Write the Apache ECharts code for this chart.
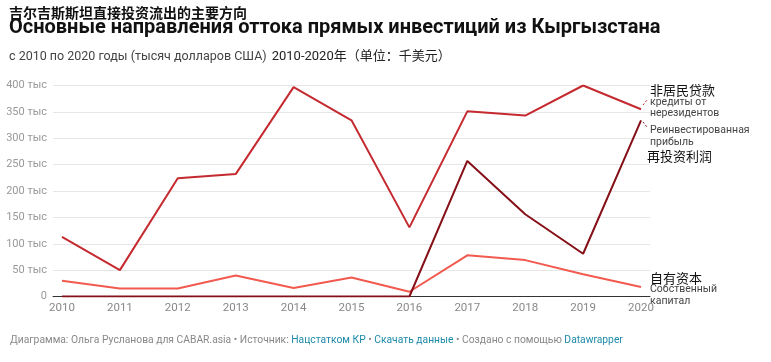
<!DOCTYPE html>
<html><head><meta charset="utf-8">
<script src="https://cdn.jsdelivr.net/npm/echarts@6/dist/echarts.min.js"></script>
<style>html,body{margin:0;padding:0;background:#fff}#c{width:771px;height:362px}</style>
</head><body><div id="c"></div>
<script>
const years = [2010,2011,2012,2013,2014,2015,2016,2017,2018,2019,2020];
const loans = [113,50,224,232,397,334,131,351,343,400,355];
const reinvested = [0,0,0,0,0,0,0,257,156,81,334];
const equity = [30,15,15,40,16,36,9,78,69,42,18];
const yTickLabels = ['0','50 тыс','100 тыс','150 тыс','200 тыс','250 тыс','300 тыс','350 тыс','400 тыс'];
const seriesNames = ['Кредиты от нерезидентов','Реинвестированная прибыль','Собственный капитал'];

const F = 'Roboto, "Noto Sans CJK SC", sans-serif';
const pairs = v => years.map((y,i)=>[y, v[i]]);
const chart = echarts.init(document.getElementById('c'), null, {renderer:'canvas'});
chart.setOption({
  animation:false,
  title:[
    {text:'吉尔吉斯斯坦直接投资流出的主要方向', left:9, top:6, padding:0,
     textStyle:{fontFamily:'"Noto Sans CJK SC", sans-serif', fontSize:14, fontWeight:'bold', color:'#111', lineHeight:14}},
    {text:'Основные направления оттока прямых инвестиций из Кыргызстана', left:9, top:17, padding:0,
     textStyle:{fontFamily:F, fontSize:20, fontWeight:'bold', color:'#111', lineHeight:22}},
    {text:'{a|с 2010 по 2020 годы (тысяч долларов США)} {b|2010-2020年（单位：千美元）}', left:9, top:48, padding:0,
     textStyle:{fontWeight:'normal', rich:{a:{fontFamily:F, fontSize:12.5, fontWeight:'normal', color:'#444', lineHeight:14},
                      b:{fontFamily:F, fontSize:13, fontWeight:'normal', color:'#222', lineHeight:14}}}}
  ],
  grid:{left:53, right:121, top:85.5, bottom:65.5},
  xAxis:{type:'value', min:2009.845, max:2020.155,
    axisLine:{show:true, lineStyle:{color:'#333', width:1}},
    axisTick:{show:false}, splitLine:{show:false},
    axisLabel:{customValues:years, formatter:v=>String(Math.round(v)), color:'#888', fontFamily:F, fontSize:11.5, margin:6}},
  yAxis:{type:'value', min:0, max:400, interval:50,
    axisLine:{show:false}, axisTick:{show:false},
    splitLine:{lineStyle:{color:'#e6e6e6', width:1}},
    axisLabel:{formatter:v=>yTickLabels[Math.round(v/50)], color:'#999', fontFamily:F, fontSize:11, margin:6}},
  series:[
    {name:seriesNames[0], type:'line', data:pairs(loans), symbol:'none', lineStyle:{color:'#c52a30', width:2}, z:3},
    {name:seriesNames[2], type:'line', data:pairs(equity), symbol:'none', lineStyle:{color:'#f25a4f', width:2}, z:4},
    {name:seriesNames[1], type:'line', data:pairs(reinvested), symbol:'none', lineStyle:{color:'#861018', width:2}, z:5}
  ],
  graphic:[
    {type:'line', shape:{x1:643,y1:105,x2:647,y2:100}, style:{stroke:'#c52a30', lineWidth:1, lineDash:[2,2]}},
    {type:'line', shape:{x1:643,y1:122,x2:647,y2:127}, style:{stroke:'#861018', lineWidth:1, lineDash:[2,2]}},
    {type:'text', x:650, y:90, style:{text:'非居民贷款', font:'13px "Noto Sans CJK SC"', fill:'#111', verticalAlign:'middle'}},
    {type:'text', x:650, y:102.5, style:{text:'кредиты от', font:'10.5px Roboto', fill:'#444', verticalAlign:'middle'}},
    {type:'text', x:650, y:113.5, style:{text:'нерезидентов', font:'10.5px Roboto', fill:'#444', verticalAlign:'middle'}},
    {type:'text', x:650, y:130.5, style:{text:'Реинвестированная', font:'10.5px Roboto', fill:'#444', verticalAlign:'middle'}},
    {type:'text', x:650, y:142, style:{text:'прибыль', font:'10.5px Roboto', fill:'#444', verticalAlign:'middle'}},
    {type:'text', x:647, y:156, style:{text:'再投资利润', font:'13px "Noto Sans CJK SC"', fill:'#111', verticalAlign:'middle'}},
    {type:'text', x:650, y:278, style:{text:'自有资本', font:'13px "Noto Sans CJK SC"', fill:'#111', verticalAlign:'middle'}},
    {type:'text', x:650, y:289.5, style:{text:'Собственный', font:'10.5px Roboto', fill:'#444', verticalAlign:'middle'}},
    {type:'text', x:650, y:301, style:{text:'капитал', font:'10.5px Roboto', fill:'#444', verticalAlign:'middle'}},
    {type:'text', x:10, y:340, style:{
      text:'{g|Диаграмма: Ольга Русланова для CABAR.asia • Источник: }{l|Нацстатком КР}{g| • }{l|Скачать данные}{g| • Создано с помощью }{l|Datawrapper}',
      verticalAlign:'middle',
      rich:{g:{fontFamily:F, fontSize:10.3, fill:'#888', color:'#888'}, l:{fontFamily:F, fontSize:10.3, fill:'#1d8aa8', color:'#1d8aa8'}}}}
  ]
});
</script></body></html>
